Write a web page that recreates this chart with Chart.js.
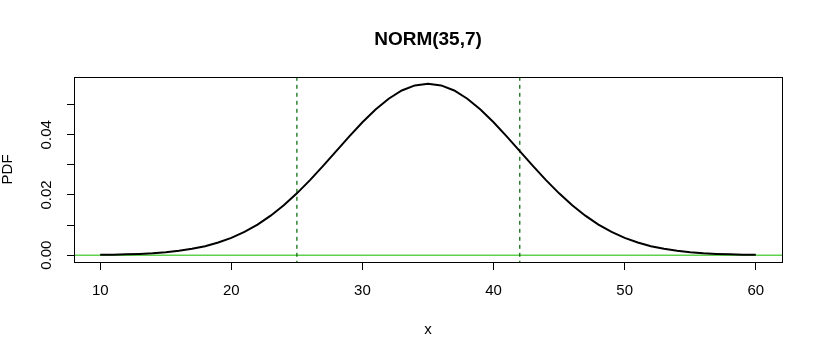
<!DOCTYPE html>
<html>
<head>
<meta charset="utf-8">
<script src="https://cdn.jsdelivr.net/npm/chart.js@4/dist/chart.umd.min.js"></script>
<style>
  html, body { margin: 0; padding: 0; background: #ffffff; }
  #wrap { width: 821px; height: 360px; }
</style>
</head>
<body>
<div id="wrap"><canvas id="c" width="821" height="360"></canvas></div>
<script>
// ---- data ----
const xValues = [10,11,12,13,14,15,16,17,18,19,20,21,22,23,24,25,26,27,28,29,30,
                 31,32,33,34,35,36,37,38,39,40,41,42,43,44,45,46,47,48,49,50,
                 51,52,53,54,55,56,57,58,59,60];
const pdfValues = [0.000097,0.000160,0.000258,0.000408,0.000633,0.000962,0.001432,0.002090,0.002986,0.004182,
                   0.005737,0.007713,0.010161,0.013111,0.016579,0.020542,0.024938,0.029661,0.034567,0.039470,
                   0.044159,0.048406,0.051990,0.054712,0.056412,0.056991,0.056412,0.054712,0.051990,0.048406,
                   0.044159,0.039470,0.034567,0.029661,0.024938,0.020542,0.016579,0.013111,0.010161,0.007713,
                   0.005737,0.004182,0.002986,0.002090,0.001432,0.000962,0.000633,0.000408,0.000258,0.000160,
                   0.000097];
const verticalLines = [25, 42];
const horizontalLine = 0;
const xTickValues = [10, 20, 30, 40, 50, 60];
const yTickValues = [0, 0.01, 0.02, 0.03, 0.04, 0.05];
const yTickLabels = ['0.00', '', '0.02', '', '0.04', ''];
const titleText = 'NORM(35,7)';
const xAxisLabel = 'x';
const yAxisLabel = 'PDF';

const FONT = "'Liberation Sans', Arial, sans-serif";

const points = xValues.map((x, i) => ({ x: x, y: pdfValues[i] }));

const refLines = {
  id: 'refLines',
  beforeDatasetsDraw(chart) {
    const { ctx, chartArea: a, scales: { x, y } } = chart;
    ctx.save();
    ctx.beginPath();
    ctx.rect(a.left, a.top, a.right - a.left, a.bottom - a.top);
    ctx.clip();
    // horizontal line
    const py = y.getPixelForValue(horizontalLine);
    ctx.strokeStyle = '#61D04F';
    ctx.lineWidth = 1.5;
    ctx.beginPath();
    ctx.moveTo(a.left, py);
    ctx.lineTo(a.right, py);
    ctx.stroke();
    // vertical dashed lines
    ctx.strokeStyle = '#006400';
    ctx.lineWidth = 1.2;
    ctx.setLineDash([4, 4]);
    verticalLines.forEach(v => {
      const px = x.getPixelForValue(v);
      ctx.beginPath();
      ctx.moveTo(px, a.top);
      ctx.lineTo(px, a.bottom);
      ctx.stroke();
    });
    ctx.restore();
  },
  afterDraw(chart) {
    const { ctx, chartArea: a, scales: { y } } = chart;
    ctx.save();
    // plot box
    ctx.strokeStyle = '#000';
    ctx.lineWidth = 1;
    ctx.strokeRect(Math.round(a.left) + 0.5, Math.round(a.top) + 0.5,
                   Math.round(a.right - a.left), Math.round(a.bottom - a.top));
    // rotated y tick labels
    ctx.fillStyle = '#000';
    ctx.font = '15px ' + FONT;
    ctx.textAlign = 'center';
    ctx.textBaseline = 'middle';
    yTickValues.forEach((v, i) => {
      if (!yTickLabels[i]) return;
      const py = y.getPixelForValue(v);
      ctx.save();
      ctx.translate(47, py);
      ctx.rotate(-Math.PI / 2);
      ctx.fillText(yTickLabels[i], 0, 0);
      ctx.restore();
    });
    ctx.restore();
  },
  afterLayout(chart) {
    // center the title over the plot region, like R does
    if (chart.titleBlock) {
      chart.titleBlock.left = chart.chartArea.left;
      chart.titleBlock.right = chart.chartArea.right;
    }
  }
};

new Chart(document.getElementById('c'), {
  type: 'scatter',
  data: {
    datasets: [{
      data: points,
      showLine: true,
      borderColor: '#000000',
      borderWidth: 2,
      pointRadius: 0,
      tension: 0,
      fill: false
    }]
  },
  options: {
    responsive: false,
    animation: false,
    devicePixelRatio: 1,
    layout: { padding: { left: 0, right: 39, top: 0, bottom: 0 } },
    plugins: {
      legend: { display: false },
      tooltip: { enabled: false },
      title: {
        display: true,
        text: titleText,
        color: '#000',
        font: { family: FONT, size: 19, weight: 'bold', lineHeight: 1.2 },
        padding: { top: 28, bottom: 26 }
      }
    },
    scales: {
      x: {
        type: 'linear',
        min: 8,
        max: 62,
        afterBuildTicks(scale) { scale.ticks = xTickValues.map(v => ({ value: v })); },
        afterFit(scale) { scale.height = 98; },
        border: { display: false },
        grid: { display: true, drawOnChartArea: false, drawTicks: true, tickLength: 8, color: '#000', lineWidth: 1 },
        ticks: {
          color: '#000',
          font: { family: FONT, size: 15 },
          padding: 12,
          maxRotation: 0,
          autoSkip: false,
          callback: v => String(v)
        },
        title: {
          display: true,
          text: xAxisLabel,
          color: '#000',
          font: { family: FONT, size: 15, lineHeight: 1.2 },
          padding: { top: 0, bottom: 21 }
        }
      },
      y: {
        type: 'linear',
        min: -0.00228,
        max: 0.05927,
        afterBuildTicks(scale) { scale.ticks = yTickValues.map(v => ({ value: v })); },
        afterFit(scale) { scale.width = 74; },
        border: { display: false },
        grid: { display: true, drawOnChartArea: false, drawTicks: true, tickLength: 7, color: '#000', lineWidth: 1 },
        ticks: { display: false },
        title: {
          display: true,
          text: yAxisLabel,
          color: '#000',
          font: { family: FONT, size: 15, lineHeight: 1.1 },
          padding: { top: 0, bottom: 0 }
        }
      }
    }
  },
  plugins: [refLines]
});
</script>
</body>
</html>
